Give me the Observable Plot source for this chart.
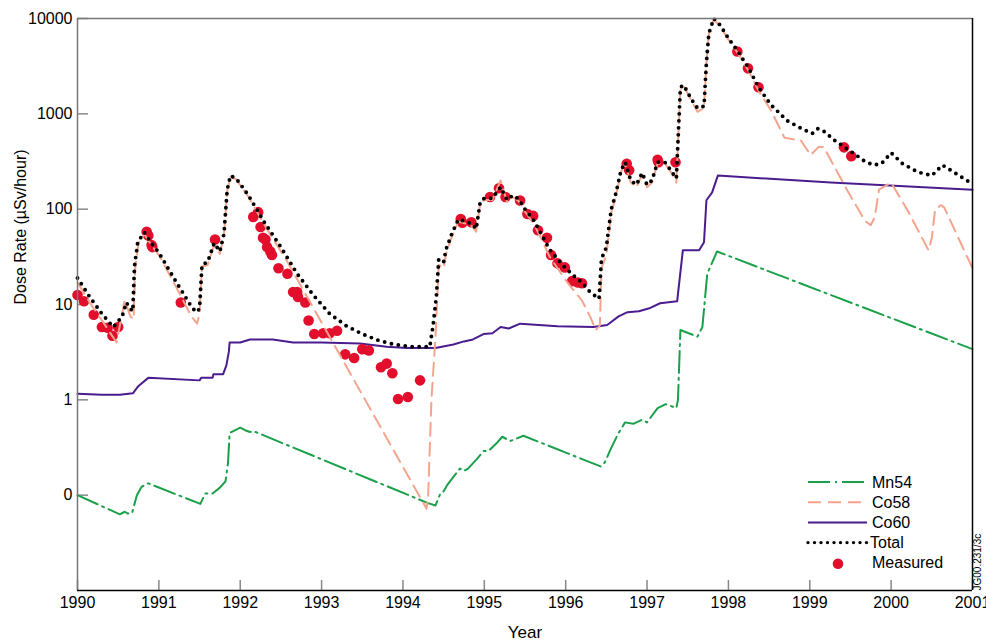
<!DOCTYPE html>
<html><head><meta charset="utf-8">
<script src="https://cdn.jsdelivr.net/npm/d3@7"></script>
<script src="https://cdn.jsdelivr.net/npm/@observablehq/plot@0.6"></script>
<style>
body{margin:0;background:#fff;font-family:"Liberation Sans",Arial,sans-serif;}
#wrap{position:relative;width:986px;height:641px;overflow:hidden;}
#legend{position:absolute;left:0;top:0;pointer-events:none;}
</style></head><body><div id="wrap"></div>
<script>
// ---------- data ----------
const xTickValues = [1990,1991,1992,1993,1994,1995,1996,1997,1998,1999,2000,2001];
const yTickValues = [0.1,1,10,100,1000,10000];
const yTickLabels = ["0","1","10","100","1000","10000"];
const seriesNames = ["Mn54","Co58","Co60","Total","Measured"];

const totalYears = [1990.0,1990.15,1990.3,1990.44,1990.55,1990.6,1990.65,1990.68,1990.7,1990.74,1990.82,1990.9,1991.0,1991.2,1991.4,1991.46,1991.5,1991.53,1991.6,1991.68,1991.75,1991.8,1991.84,1991.88,1991.95,1992.1,1992.3,1992.5,1992.7,1992.9,1993.1,1993.3,1993.5,1993.7,1993.9,1994.1,1994.33,1994.37,1994.41,1994.44,1994.5,1994.53,1994.6,1994.68,1994.76,1994.85,1994.9,1994.95,1995.0,1995.1,1995.2,1995.28,1995.35,1995.42,1995.5,1995.6,1995.7,1995.8,1995.9,1996.0,1996.1,1996.2,1996.3,1996.41,1996.44,1996.5,1996.56,1996.62,1996.68,1996.73,1996.8,1996.87,1996.94,1997.0,1997.06,1997.13,1997.22,1997.3,1997.36,1997.41,1997.45,1997.55,1997.62,1997.7,1997.73,1997.76,1997.82,1997.9,1998.0,1998.11,1998.25,1998.37,1998.52,1998.72,1998.9,1999.03,1999.1,1999.18,1999.3,1999.42,1999.55,1999.67,1999.78,1999.88,2000.0,2000.14,2000.33,2000.5,2000.63,2000.77,2000.93,2001.0];
const totalValues = [19,12,8,5.8,7.5,10.5,9,8.5,25,45,57,45,35,18,9.5,8.3,9,26,28,44,36,55,160,225,210,140,72,40,21,12.5,8,6,4.9,4.2,3.8,3.6,3.6,6,12,30,28,38,55,78,75,70,62,120,130,130,170,125,140,128,100,78,55,38,30,24,20,17,13.5,11.5,30,40,100,150,255,310,200,180,240,180,200,310,310,250,210,1900,2000,1400,1150,1200,3500,7000,10000,8500,6200,4600,3000,1900,1250,850,700,620,700,650,530,450,380,320,290,300,390,300,245,225,290,245,200,185];

const co58Years = [1990.0,1990.15,1990.3,1990.48,1990.52,1990.58,1990.65,1990.69,1990.71,1990.75,1990.82,1990.9,1991.0,1991.2,1991.4,1991.47,1991.5,1991.53,1991.6,1991.68,1991.75,1991.8,1991.84,1991.88,1991.95,1992.1,1992.3,1992.5,1992.56,1994.29,1994.31,1994.35,1994.4,1994.44,1994.5,1994.53,1994.6,1994.68,1994.76,1994.85,1994.9,1994.95,1995.0,1995.1,1995.2,1995.28,1995.35,1995.42,1995.5,1995.6,1995.7,1995.8,1995.9,1996.0,1996.1,1996.2,1996.3,1996.37,1996.42,1996.44,1996.5,1996.56,1996.62,1996.68,1996.73,1996.8,1996.87,1996.94,1997.0,1997.06,1997.13,1997.22,1997.3,1997.36,1997.41,1997.45,1997.55,1997.62,1997.7,1997.73,1997.76,1997.82,1997.9,1998.0,1998.11,1998.25,1998.37,1998.52,1998.69,1998.89,1999.01,1999.11,1999.17,1999.46,1999.68,1999.75,1999.8,1999.85,2000.0,2000.2,2000.46,2000.5,2000.54,2000.61,2000.65,2001.0];
const co58Values = [17,10.5,6.8,4.0,6,11,7.5,7,24,44,55,43,33,16,7.5,6.3,8,25,26,42,34,53,155,220,205,135,68,36,30,0.072,0.1,1,4.6,26,24,34,51,74,71,66,58,115,125,125,200,118,134,122,94,72,49,32,24,18,14,11,7.5,5.4,6,24,33,92,140,245,300,190,170,230,170,190,300,300,240,190,1850,1950,1350,1050,1150,3400,6900,9800,8200,6000,4400,2800,1750,1100,560,525,370,450,450,158,75,68,83,160,190,98,37,50,98,110,105,24];

const co60Years = [1990.0,1990.3,1990.52,1990.68,1990.75,1990.87,1991.5,1991.52,1991.66,1991.67,1991.79,1991.83,1991.86,1991.87,1992.0,1992.12,1992.4,1992.65,1993.0,1993.47,1993.8,1994.05,1994.4,1994.62,1994.75,1994.86,1994.99,1995.1,1995.2,1995.3,1995.44,1995.9,1996.34,1996.51,1996.65,1996.76,1996.9,1997.04,1997.16,1997.37,1997.44,1997.64,1997.7,1997.73,1997.8,1997.87,1999.26,2001.0];
const co60Values = [1.16,1.13,1.13,1.17,1.4,1.7,1.6,1.7,1.7,1.85,1.86,2.3,3.2,4.0,4.0,4.3,4.3,4.0,4.0,3.9,3.6,3.5,3.5,3.8,4.1,4.3,4.9,5.0,5.8,5.6,6.3,5.9,5.8,6.1,7.5,8.3,8.5,9.2,10.3,10.8,37,37,45,124,150,225,190,160];

const mn54Years = [1990.0,1990.52,1990.58,1990.62,1990.67,1990.73,1990.79,1990.87,1991.51,1991.57,1991.66,1991.75,1991.82,1991.85,1991.87,1992.0,1992.06,1992.12,1992.16,1994.3,1994.4,1994.46,1994.5,1994.55,1994.7,1994.75,1994.8,1994.91,1994.99,1995.05,1995.15,1995.22,1995.32,1995.48,1996.43,1996.48,1996.55,1996.65,1996.73,1996.83,1996.94,1997.0,1997.13,1997.23,1997.36,1997.38,1997.41,1997.62,1997.68,1997.74,1997.86,2001.0];
const mn54Values = [0.1,0.063,0.067,0.064,0.065,0.1,0.123,0.133,0.081,0.104,0.104,0.12,0.14,0.22,0.45,0.51,0.48,0.46,0.47,0.083,0.078,0.104,0.11,0.13,0.19,0.18,0.19,0.24,0.29,0.29,0.35,0.41,0.37,0.42,0.2,0.22,0.3,0.45,0.58,0.56,0.62,0.58,0.82,0.9,0.82,1.0,5.4,4.6,5.8,21,36,3.4];

const measuredYears = [1990.0,1990.08,1990.2,1990.3,1990.37,1990.43,1990.5,1990.85,1990.87,1990.91,1990.92,1991.27,1991.69,1992.16,1992.22,1992.25,1992.28,1992.31,1992.33,1992.37,1992.39,1992.47,1992.58,1992.65,1992.7,1992.71,1992.8,1992.84,1992.91,1993.02,1993.1,1993.19,1993.29,1993.4,1993.5,1993.58,1993.73,1993.8,1993.87,1993.94,1994.06,1994.21,1994.71,1994.73,1994.84,1995.07,1995.18,1995.26,1995.44,1995.53,1995.6,1995.66,1995.77,1995.82,1995.9,1995.99,1996.08,1996.15,1996.2,1996.75,1996.78,1997.13,1997.14,1997.35,1998.11,1998.24,1998.37,1999.42,1999.51];
const measuredValues = [12.6,10.8,7.8,5.8,5.7,4.7,5.8,58,53,42,40,10.5,48,83,93,65,50,48,40,36,33,24,21,13.5,13.5,12,10.5,6.8,4.9,5.0,5.0,5.3,3.0,2.75,3.4,3.3,2.2,2.4,1.9,1.02,1.07,1.6,79,72,73,134,166,134,123,89,85,60,50,33,27,24.5,17.6,17,16.7,300,256,330,310,310,4500,3000,1900,445,360];

// ---------- styles ----------
const C = {mn54:"#1BA04A", co58:"#F4A48C", co60:"#4A1C8E", total:"#000000", measured:"#E20E2C"};
const D = {mn54:"22 5 2 5", co58:"13 7", total:"0 7"};

const rows = (xs, ys) => xs.map((x, i) => ({x, y: ys[i]}));
const total = rows(totalYears, totalValues);
const co58 = rows(co58Years, co58Values);
const co60 = rows(co60Years, co60Values);
const mn54 = rows(mn54Years, mn54Values);
const measured = rows(measuredYears, measuredValues);

const W = 986, H = 641, mL = 77, mR = 14, mT = 18, mB = 51;
const fW = W - mL - mR, fH = H - mT - mB;

const chart = Plot.plot({
  width: W, height: H,
  marginLeft: mL, marginRight: mR, marginTop: mT, marginBottom: mB,
  style: {fontFamily: "'Liberation Sans', Arial, sans-serif", fontSize: "16px", background: "#fff", color: "#000"},
  x: {domain: [1990, 2001]},
  y: {type: "log", domain: [0.01, 10000]},
  marks: [
    Plot.tickX(xTickValues, {x: d => d, insetTop: fH - 10, stroke: "#888", strokeWidth: 1.5}),
    Plot.tickY(yTickValues, {y: d => d, insetRight: fW - 11, stroke: "#888", strokeWidth: 1.5}),
    Plot.axisX({ticks: xTickValues, tickSize: 0, tickPadding: 6, tickFormat: d => String(d), label: null, fontSize: 16}),
    Plot.axisY({ticks: yTickValues, tickSize: 0, tickPadding: 5, tickFormat: v => yTickLabels[yTickValues.indexOf(v)], label: null, fontSize: 16}),
    Plot.line(mn54, {x: "x", y: "y", stroke: C.mn54, strokeWidth: 2, strokeDasharray: D.mn54}),
    Plot.line(co60, {x: "x", y: "y", stroke: C.co60, strokeWidth: 2}),
    Plot.dot(measured, {x: "x", y: "y", r: 5.3, fill: C.measured, stroke: "none"}),
    Plot.line(co58, {x: "x", y: "y", stroke: C.co58, strokeWidth: 2, strokeDasharray: D.co58}),
    Plot.line(total, {x: "x", y: "y", stroke: C.total, strokeWidth: 3.9, strokeDasharray: D.total, strokeLinecap: "round"}),
    Plot.ruleY([10000], {stroke: "#777", strokeWidth: 1.5}),
    Plot.ruleX([1990], {stroke: "#777", strokeWidth: 1.5}),
    Plot.ruleX([2001], {stroke: "#000", strokeWidth: 1.5}),
    Plot.ruleY([0.01], {stroke: "#000", strokeWidth: 1.5}),
    Plot.text(["Dose Rate (µSv/hour)"], {frameAnchor: "left", dx: -57, rotate: -90, fontSize: 16}),
    Plot.text(["Year"], {frameAnchor: "bottom", dy: 47, fontSize: 17}),
    Plot.text(["JG00.231/3c"], {frameAnchor: "bottom-right", dx: 8, rotate: -90, textAnchor: "start", fontSize: 10})
  ]
});
const wrap = document.getElementById("wrap");
wrap.appendChild(chart);

// ---------- legend overlay ----------
const lg = d3.select(wrap).append("svg").attr("id", "legend").attr("width", W).attr("height", H)
  .style("font-family", "'Liberation Sans', Arial, sans-serif").style("font-size", "16px");
const legendRows = [
  {name: seriesNames[0], stroke: C.mn54, dash: D.mn54, w: 2},
  {name: seriesNames[1], stroke: C.co58, dash: D.co58, w: 2},
  {name: seriesNames[2], stroke: C.co60, dash: null, w: 2},
  {name: seriesNames[3], stroke: C.total, dash: "0 6.5", w: 3.4, cap: "round"},
  {name: seriesNames[4], dot: C.measured}
];
legendRows.forEach((r, i) => {
  const y = 482 + i * 20.2;
  if (r.dot) {
    lg.append("circle").attr("cx", 838).attr("cy", y + 1).attr("r", 5.3).attr("fill", r.dot);
  } else {
    const l = lg.append("line").attr("x1", 808).attr("x2", 867).attr("y1", y).attr("y2", y)
      .attr("stroke", r.stroke).attr("stroke-width", r.w);
    if (r.dash) l.attr("stroke-dasharray", r.dash);
    if (r.cap) l.attr("stroke-linecap", r.cap);
  }
  lg.append("text").attr("x", i === 3 ? 870 : 872).attr("y", y).attr("dy", "0.35em").text(r.name);
});
</script></body></html>
